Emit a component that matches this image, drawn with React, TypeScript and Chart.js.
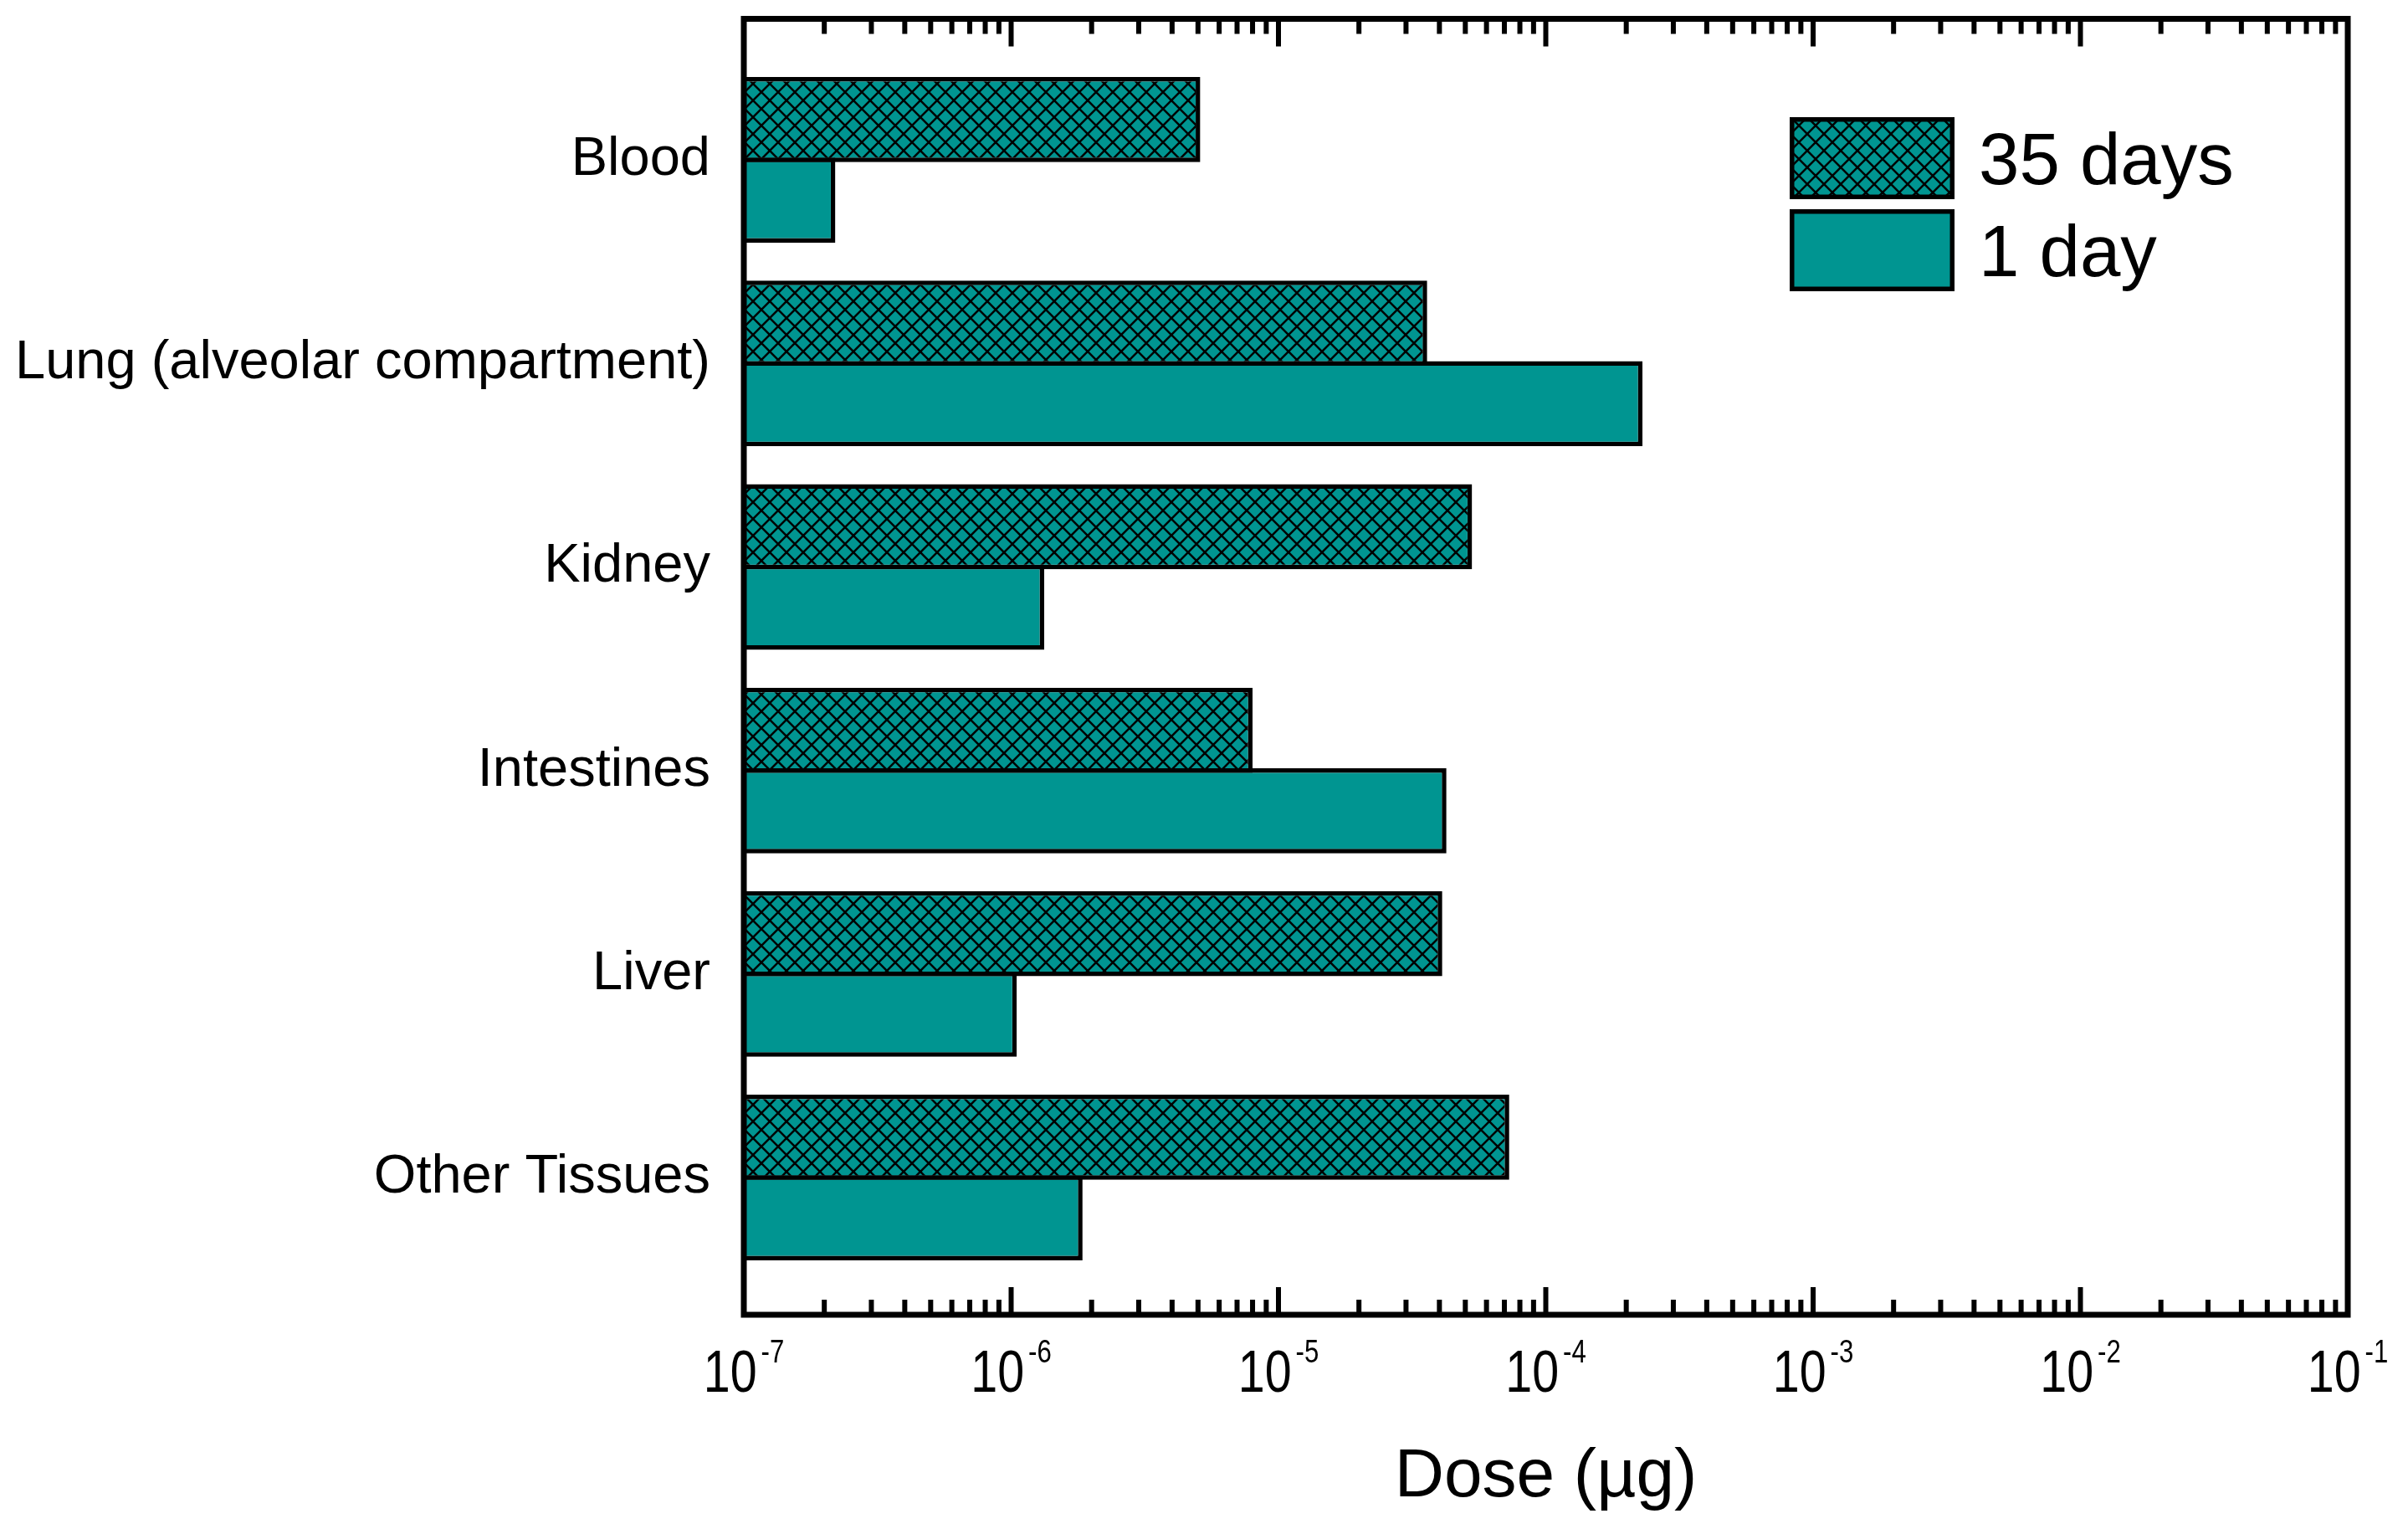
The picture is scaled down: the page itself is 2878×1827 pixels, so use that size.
import React, { useEffect, useRef } from 'react';
import { Chart, registerables } from 'chart.js';

Chart.register(...registerables);

// organ compartments, top to bottom
const categories = [
  'Blood',
  'Lung (alveolar compartment)',
  'Kidney',
  'Intestines',
  'Liver',
  'Other Tissues',
];
const seriesLabels = ['35 days', '1 day'];
// dose in µg
const dose35Days = [5.1e-6, 3.6e-5, 5.3e-5, 8.0e-6, 4.1e-5, 7.3e-5];
const dose1Day = [2.2e-7, 2.3e-4, 1.33e-6, 4.25e-5, 1.05e-6, 1.85e-6];
// decades shown on the x axis (10^-7 .. 10^-1)
const decadeExponents = [-7, -6, -5, -4, -3, -2, -1];
const minorMultipliers = [2, 3, 4, 5, 6, 7, 8, 9];

const TEAL = '#009591';
const FONT = '"Liberation Sans", Arial, Helvetica, sans-serif';

function makeCrossHatch(ctx: CanvasRenderingContext2D) {
  const size = 20;
  const tile = document.createElement('canvas');
  tile.width = size;
  tile.height = size;
  const c = tile.getContext('2d')!;
  c.fillStyle = TEAL;
  c.fillRect(0, 0, size, size);
  c.strokeStyle = '#000';
  c.lineWidth = 2.5;
  c.beginPath();
  for (const o of [-size, 0, size]) {
    c.moveTo(o, 0);
    c.lineTo(o + size, size);
    c.moveTo(o + size, 0);
    c.lineTo(o, size);
  }
  c.stroke();
  return ctx.createPattern(tile, 'repeat');
}

// frame, inward ticks, superscript tick labels and the legend
const decorPlugin = {
  id: 'decor',
  afterDatasetsDraw(chart: any) {
    const { ctx, chartArea: a } = chart;
    const x = chart.scales.x;
    ctx.save();
    ctx.strokeStyle = '#000';
    ctx.lineCap = 'butt';

    ctx.lineWidth = 6;
    ctx.beginPath();
    decadeExponents.forEach((e, i) => {
      const marks = [{ v: Math.pow(10, e), len: 33 }];
      if (i < decadeExponents.length - 1) {
        minorMultipliers.forEach((m) => marks.push({ v: m * Math.pow(10, e), len: 18 }));
      }
      marks.forEach(({ v, len }) => {
        const px = x.getPixelForValue(v);
        ctx.moveTo(px, a.bottom);
        ctx.lineTo(px, a.bottom - len);
        ctx.moveTo(px, a.top);
        ctx.lineTo(px, a.top + len);
      });
    });
    ctx.stroke();

    ctx.lineWidth = 7;
    ctx.strokeRect(a.left, a.top, a.right - a.left, a.bottom - a.top);

    // tick labels 10^n
    const sx = 0.82;
    ctx.fillStyle = '#000';
    ctx.textBaseline = 'alphabetic';
    ctx.textAlign = 'left';
    decadeExponents.forEach((e) => {
      const px = x.getPixelForValue(Math.pow(10, e));
      const exp = String(e);
      ctx.font = `70px ${FONT}`;
      const wBase = ctx.measureText('10').width * sx;
      ctx.font = `38px ${FONT}`;
      const wExp = ctx.measureText(exp).width * sx;
      const gap = 5;
      const left = px - (wBase + gap + wExp) / 2;
      ctx.save();
      ctx.translate(left, a.bottom + 92);
      ctx.scale(sx, 1);
      ctx.font = `70px ${FONT}`;
      ctx.fillText('10', 0, 0);
      ctx.restore();
      ctx.save();
      ctx.translate(left + wBase + gap, a.bottom + 57);
      ctx.scale(sx, 1);
      ctx.font = `38px ${FONT}`;
      ctx.fillText(exp, 0, 0);
      ctx.restore();
    });

    // legend
    const boxLeft = 2139;
    const boxW = 197;
    const boxH = 98;
    const tops = [140, 250];
    chart.data.datasets.forEach((ds: any, i: number) => {
      const top = tops[i];
      ctx.fillStyle = ds.backgroundColor;
      ctx.fillRect(boxLeft, top, boxW, boxH);
      ctx.lineWidth = 5.5;
      ctx.strokeStyle = '#000';
      ctx.strokeRect(boxLeft + 2.75, top + 2.75, boxW - 5.5, boxH - 5.5);
      ctx.fillStyle = '#000';
      ctx.font = `87px ${FONT}`;
      ctx.fillText(ds.label, 2365, top + 80);
    });
    ctx.restore();
  },
};

function DoseChart() {
  const canvasRef = useRef<HTMLCanvasElement>(null);
  const chartRef = useRef<Chart | null>(null);

  useEffect(() => {
    document.body.style.margin = '0';
    const canvas = canvasRef.current;
    if (!canvas) return;
    const ctx = canvas.getContext('2d')!;
    const hatch = makeCrossHatch(ctx);

    if (chartRef.current) chartRef.current.destroy();

    chartRef.current = new Chart(ctx, {
      type: 'bar',
      data: {
        datasets: [
          {
            label: seriesLabels[0],
            data: dose35Days.map((v, i) => ({ x: v, y: i })),
            backgroundColor: hatch as any,
            borderColor: '#000',
            borderWidth: 5.5,
          },
          {
            label: seriesLabels[1],
            data: dose1Day.map((v, i) => ({ x: v, y: i })),
            backgroundColor: TEAL,
            borderColor: '#000',
            borderWidth: 5.5,
          },
        ],
      },
      options: {
        indexAxis: 'y',
        animation: false,
        responsive: false,
        devicePixelRatio: 1,
        categoryPercentage: 0.7915,
        barPercentage: 1.0571,
        layout: { padding: { top: 22.5, right: 72, bottom: 0, left: 0 } },
        plugins: {
          legend: { display: false },
          tooltip: { enabled: false },
        },
        scales: {
          y: {
            type: 'linear',
            reverse: true,
            offset: false,
            bounds: 'data',
            min: -0.693,
            max: 5.674,
            afterBuildTicks: (s: any) => {
              s.ticks = categories.map((_, i) => ({ value: i }));
            },
            afterFit: (s: any) => {
              s.width = 889;
              s.paddingTop = 0;
              s.paddingBottom = 0;
            },
            grid: { display: false, offset: false },
            border: { display: false },
            ticks: {
              autoSkip: false,
              padding: 32,
              color: '#000',
              font: { family: FONT, size: 65 },
              callback: (v: any) => categories[v] ?? '',
            },
          },
          x: {
            type: 'logarithmic',
            min: 1e-7,
            max: 1e-1,
            afterFit: (s: any) => {
              s.height = 256;
              s.paddingLeft = 0;
              s.paddingRight = 0;
            },
            grid: { display: false },
            border: { display: false },
            ticks: { display: false, autoSkip: false },
            title: {
              display: true,
              text: 'Dose (µg)',
              color: '#000',
              font: { family: FONT, size: 82 },
              padding: { top: 0, bottom: 12 },
            },
          },
        },
      } as any,
      plugins: [decorPlugin],
    });

    return () => {
      if (chartRef.current) {
        chartRef.current.destroy();
        chartRef.current = null;
      }
    };
  }, []);

  return (
    <div style={{ width: 2878, height: 1827, background: '#fff' }}>
      <canvas ref={canvasRef} width={2878} height={1827} style={{ display: 'block' }} />
    </div>
  );
}

export default function App() {
  return <DoseChart />;
}
